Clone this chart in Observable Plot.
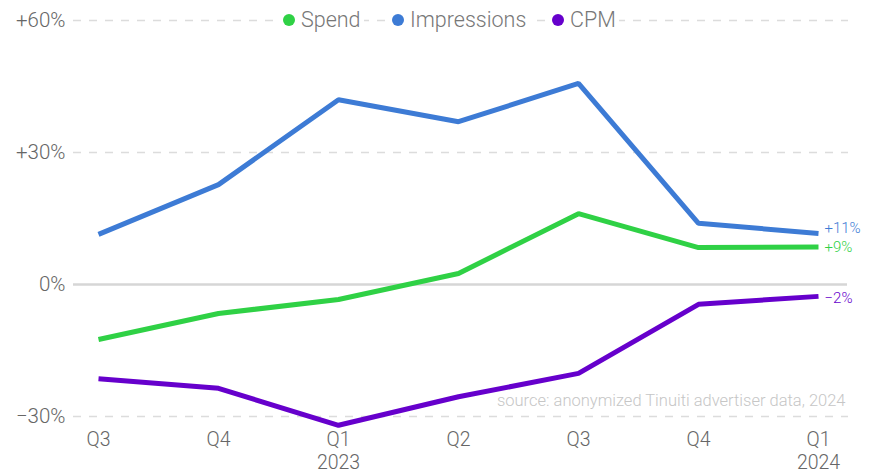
<!DOCTYPE html>
<html>
<head>
<meta charset="utf-8">
<script src="https://cdn.jsdelivr.net/npm/d3@7"></script>
<script src="https://cdn.jsdelivr.net/npm/@observablehq/plot@0.6"></script>
<style>
  html, body { margin: 0; padding: 0; background: #fff; }
  #wrap { position: relative; width: 877px; height: 474px; font-family: Roboto, "Noto Sans", sans-serif; font-weight: 300; }
  #legend { position: absolute; top: 5px; left: 0; width: 877px; height: 30px; pointer-events: none; }
  .item { position: absolute; top: 0; display: flex; align-items: center; background: #fff; color: #777; font-size: 21.5px; padding: 0 3px; line-height: 30px; }
  .dot { width: 12px; height: 12px; border-radius: 50%; margin-right: 6px; }
</style>
</head>
<body>
<div id="wrap">
  <div id="chart"></div>
  <div id="legend"></div>
</div>
<script>
const periods = ["2022 Q3", "2022 Q4", "2023 Q1", "2023 Q2", "2023 Q3", "2023 Q4", "2024 Q1"];
const tickLabels = ["Q3", "Q4", "Q1\n2023", "Q2", "Q3", "Q4", "Q1\n2024"];
const seriesNames = ["Spend", "Impressions", "CPM"];
const seriesColors = ["#2fd145", "#3d7bd5", "#6600cc"];
const spend = [-12.5, -6.6, -3.4, 2.5, 16.1, 8.4, 8.5];
const impressions = [11.4, 22.7, 42.0, 37.0, 45.7, 13.9, 11.6];
const cpm = [-21.4, -23.6, -32.0, -25.5, -20.2, -4.5, -2.7];
const endLabels = ["+9%", "+11%", "\u22122%"];
const yTicks = [-30, 0, 30, 60];
const source = "source: anonymized Tinuiti advertiser data, 2024";

const seriesValues = [spend, impressions, cpm];
const rows = [];
seriesNames.forEach((name, i) => {
  periods.forEach((p, j) => rows.push({series: name, period: p, value: seriesValues[i][j]}));
});
const last = seriesNames.map((name, i) => ({series: name, period: periods[periods.length - 1], value: seriesValues[i][periods.length - 1], label: endLabels[i]}));
const fmtY = v => v === 0 ? "0%" : (v > 0 ? "+" + v + "%" : "\u2212" + Math.abs(v) + "%");
const labelDy = [0, -5, 2];

const chart = Plot.plot({
  width: 877,
  height: 474,
  marginTop: 20,
  marginBottom: 58,
  marginLeft: 98,
  marginRight: 59,
  style: {fontFamily: "Roboto, 'Noto Sans', sans-serif", fontWeight: 300, background: "#fff", overflow: "visible"},
  x: {type: "point", domain: periods, padding: 0},
  y: {domain: [-30, 60]},
  color: {domain: seriesNames, range: seriesColors},
  marks: [
    Plot.ruleY(yTicks.filter(d => d !== 0), {stroke: "#dcdcdc", strokeWidth: 1.5, strokeDasharray: "8,8", insetLeft: -25, insetRight: -30}),
    Plot.ruleY([0], {stroke: "#d6d6d6", strokeWidth: 2.5, insetLeft: -25, insetRight: -29}),
    Plot.axisY({ticks: yTicks, tickFormat: fmtY, tickSize: 0, tickPadding: 33, fontSize: 20.5, fill: "#666", label: null}),
    Plot.axisX({tickFormat: (d, i) => tickLabels[periods.indexOf(d)], tickSize: 0, tickPadding: 13, fontSize: 19.5, fill: "#666", lineHeight: 1.18, label: null}),
    Plot.text([source], {frameAnchor: "bottom-right", text: d => d, dx: 27, dy: -11, fontSize: 16.5, fill: "#c6c6c6", textAnchor: "end"}),
    Plot.line(rows, {x: "period", y: "value", z: "series", stroke: "series", strokeWidth: 5, strokeLinejoin: "miter", strokeLinecap: "butt"}),
    ...seriesNames.map((name, i) => Plot.text(last.filter(d => d.series === name), {x: "period", y: "value", text: "label", fill: seriesColors[i], fontSize: 15, textAnchor: "start", dx: 6, dy: labelDy[i]}))
  ]
});
document.getElementById("chart").appendChild(chart);

const legend = document.getElementById("legend");
const legendLeft = [280, 389, 549];
seriesNames.forEach((name, i) => {
  const el = document.createElement("div");
  el.className = "item";
  el.style.left = legendLeft[i] + "px";
  el.innerHTML = `<span class="dot" style="background:${seriesColors[i]}"></span><span>${name}</span>`;
  legend.appendChild(el);
});
</script>
</body>
</html>
